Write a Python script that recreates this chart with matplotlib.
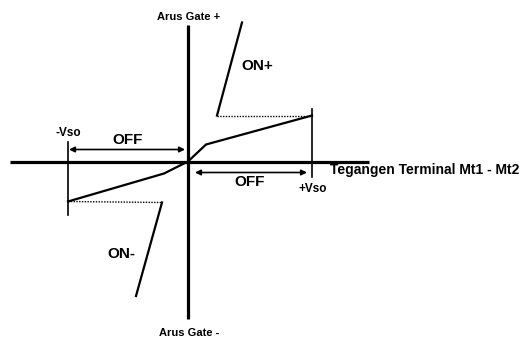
import matplotlib
matplotlib.use("Agg")
import matplotlib.pyplot as plt

# Triac characteristic, sketch units (origin at the axis crossing, y up)
VSO_POS = 124
VSO_NEG = -120

curve_pos_x = [0, 18, 124]
curve_pos_y = [0, 17, 46]
curve_neg_x = [0, -24, -120]
curve_neg_y = [0, -12, -40]

on_pos_x = [29, 54]
on_pos_y = [46, 139]
on_neg_x = [-26, -52]
on_neg_y = [-41, -134.5]

dot_pos_x = [29, 124]
dot_pos_y = [46, 46]
dot_neg_x = [-120, -26]
dot_neg_y = [-40, -41]

vso_pos_span = [-15, 52.5]
vso_neg_span = [-53.5, 20]

x_axis_span = [-178, 181]
y_axis_span = [-157.5, 136.5]

off_left = [-119, -3]
off_left_y = 12
off_right = [7, 119]
off_right_y = -11

plt.rcParams["font.family"] = ["Liberation Sans", "DejaVu Sans"]

fig = plt.figure(figsize=(5.31, 3.39), dpi=100)
ax = fig.add_axes([0, 0, 1, 1])
ax.set_xlim(-188, 343)
ax.set_ylim(-177.5, 161.5)
ax.axis("off")

# axes
ax.plot(x_axis_span, [0, 0], color="black", lw=2.3, solid_capstyle="butt")
ax.plot([0, 0], y_axis_span, color="black", lw=2.3, solid_capstyle="butt")

# characteristic
ax.plot(curve_pos_x, curve_pos_y, color="black", lw=1.6)
ax.plot(curve_neg_x, curve_neg_y, color="black", lw=1.6)
ax.plot(on_pos_x, on_pos_y, color="black", lw=1.6)
ax.plot(on_neg_x, on_neg_y, color="black", lw=1.6)
ax.plot(dot_pos_x, dot_pos_y, color="black", lw=1.0, ls=(0, (1, 1)))
ax.plot(dot_neg_x, dot_neg_y, color="black", lw=1.0, ls=(0, (1, 1)))

# breakover markers
ax.plot([VSO_POS, VSO_POS], vso_pos_span, color="black", lw=1.2)
ax.plot([VSO_NEG, VSO_NEG], vso_neg_span, color="black", lw=1.2)

# OFF arrows
arrow = dict(arrowstyle="<|-|>", color="black", lw=1.2, mutation_scale=8,
             shrinkA=0, shrinkB=0)
ax.annotate("", xy=(off_left[1], off_left_y), xytext=(off_left[0], off_left_y),
            arrowprops=arrow)
ax.annotate("", xy=(off_right[1], off_right_y), xytext=(off_right[0], off_right_y),
            arrowprops=arrow)

bold = dict(fontweight="bold", color="black", ha="center", va="center")
ax.text(-60, 21.5, "OFF", fontsize=11, **bold)
ax.text(62, -21, "OFF", fontsize=11, **bold)
ax.text(69, 95, "ON+", fontsize=11, **bold)
ax.text(-67, -92.5, "ON-", fontsize=11, **bold)
ax.text(VSO_NEG, 29, "-Vso", fontsize=8.5, **bold)
ax.text(VSO_POS + 1, -27, "+Vso", fontsize=8.5, **bold)
ax.text(1, 145, "Arus Gate +", fontsize=8, **bold)
ax.text(1, -171.5, "Arus Gate -", fontsize=8, **bold)
ax.text(142, -8.5, "Tegangen Terminal Mt1 - Mt2", fontsize=10,
        fontweight="bold", ha="left", va="center")

fig.savefig("out.png", dpi=100)
